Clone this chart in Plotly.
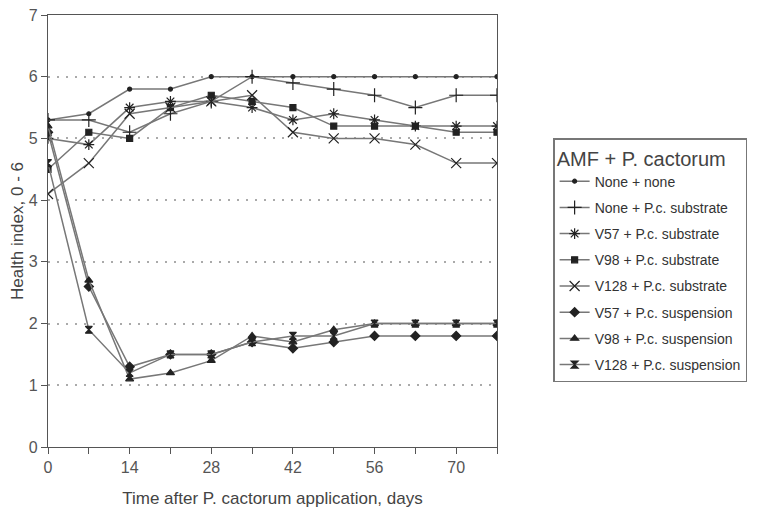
import plotly.graph_objects as go

days = [0, 7, 14, 21, 28, 35, 42, 49, 56, 63, 70, 77]

none_none = [5.3, 5.4, 5.8, 5.8, 6.0, 6.0, 6.0, 6.0, 6.0, 6.0, 6.0, 6.0]
none_sub = [5.3, 5.3, 5.1, 5.4, 5.6, 6.0, 5.9, 5.8, 5.7, 5.5, 5.7, 5.7]
v57_sub = [5.0, 4.9, 5.5, 5.6, 5.6, 5.5, 5.3, 5.4, 5.3, 5.2, 5.2, 5.2]
v98_sub = [4.5, 5.1, 5.0, 5.5, 5.7, 5.6, 5.5, 5.2, 5.2, 5.2, 5.1, 5.1]
v128_sub = [4.1, 4.6, 5.4, 5.5, 5.6, 5.7, 5.1, 5.0, 5.0, 4.9, 4.6, 4.6]
v57_susp = [5.1, 2.6, 1.3, 1.5, 1.5, 1.7, 1.6, 1.7, 1.8, 1.8, 1.8, 1.8]
v98_susp = [5.2, 2.7, 1.1, 1.2, 1.4, 1.8, 1.7, 1.9, 2.0, 2.0, 2.0, 2.0]
v128_susp = [4.6, 1.9, 1.2, 1.5, 1.5, 1.7, 1.8, 1.8, 2.0, 2.0, 2.0, 2.0]

names = ["None + none", "None + P.c. substrate", "V57 + P.c. substrate",
         "V98 + P.c. substrate", "V128 + P.c. substrate", "V57 + P.c. suspension",
         "V98 + P.c. suspension", "V128 + P.c. suspension"]
series = [none_none, none_sub, v57_sub, v98_sub, v128_sub, v57_susp, v98_susp, v128_susp]
symbols = ["circle", "cross-thin", "asterisk", "square", "x-thin", "diamond",
           "triangle-up", "hourglass"]
sizes = [4, 10, 9, 6, 10, 7, 7, 7]

xtick_vals = list(range(0, 78, 7))
xtick_text = [str(v) if v % 14 == 0 else "" for v in xtick_vals]

fig = go.Figure()
for i, (nm, ys, sym, sz) in enumerate(zip(names, series, symbols, sizes)):
    fig.add_trace(go.Scatter(
        x=days, y=ys, name=nm, mode="lines+markers", legendgroup=str(i),
        line=dict(color="#777777", width=1.5),
        marker=dict(symbol=sym, size=sz, color="#222222",
                    line=dict(color="#222222", width=1.2)),
    ))

axis_common = dict(showline=True, linecolor="#555555", linewidth=1.3, mirror=True,
                   ticks="outside", ticklen=6, tickcolor="#555555",
                   tickfont=dict(family="Liberation Sans", size=16, color="#555555"),
                   zeroline=False, automargin=False, ticklabeloverflow="allow")

fig.update_layout(
    width=759, height=518,
    margin=dict(l=40, r=270, t=7, b=79),
    paper_bgcolor="white", plot_bgcolor="white",
    font=dict(family="Liberation Sans", color="#444444"),
    xaxis=dict(range=[0, 77], tickvals=xtick_vals, ticktext=xtick_text,
               showgrid=False,
               title=dict(text="Time after P. cactorum application, days",
                          font=dict(size=17, color="#444444"), standoff=16),
               **axis_common),
    yaxis=dict(range=[0, 7], dtick=1, showgrid=True, gridcolor="#aaaaaa",
               griddash="2px,7px", gridwidth=1.5,
               title=dict(text="Health index, 0 - 6",
                          font=dict(size=17, color="#444444"), standoff=14),
               **axis_common),
    legend=dict(x=1.125, y=0.715, xanchor="left", yanchor="top",
                bordercolor="#777777", borderwidth=1.5, bgcolor="white",
                font=dict(size=14, color="#333333"), tracegroupgap=5,
                itemwidth=30,
                title=dict(text="AMF + P. cactorum", font=dict(size=20, color="#444444"))),
)

fig.write_html("out.html")
